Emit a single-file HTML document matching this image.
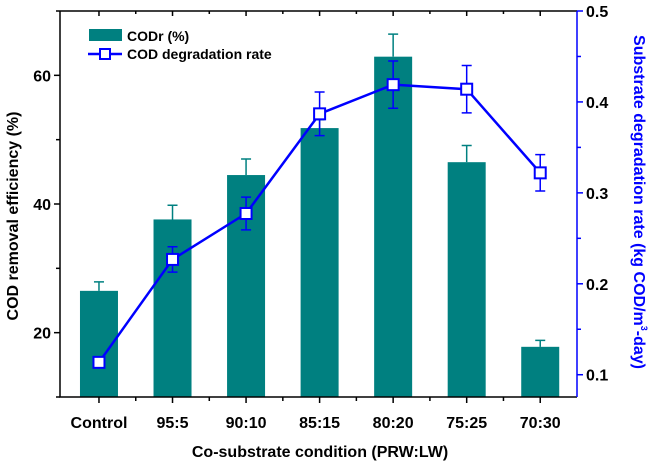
<!DOCTYPE html>
<html><head><meta charset="utf-8"><style>
body{margin:0;background:#fff}
svg text{font-family:"Liberation Sans",Arial,sans-serif;font-weight:bold}
</style></head><body>
<svg id="chart" width="651" height="463" xmlns="http://www.w3.org/2000/svg"></svg>
<script>
const categories=["Control","95:5","90:10","85:15","80:20","75:25","70:30"];
const codr=[26.5,37.6,44.5,51.8,62.9,46.5,17.8];
const codrErr=[1.4,2.2,2.5,1.3,3.5,2.6,1.0];
const rate=[0.1136,0.2268,0.2773,0.3869,0.419,0.414,0.322];
const rateErr=[0.004,0.014,0.018,0.024,0.026,0.026,0.020];
const leftTicks=[20,40,60];
const rightTicks=[0.1,0.2,0.3,0.4,0.5];
const NS="http://www.w3.org/2000/svg";
const svg=document.getElementById('chart');
const L=60,R=577,T=11,B=397;
const x=i=>L+(i+0.53)*(R-L)/7.03;
const yl=v=>B-(v-10)*(B-T)/60;
const yr=v=>B-(v-0.0755)*(B-T)/(0.5-0.0755);
function el(tag,attrs,parent){const e=document.createElementNS(NS,tag);for(const k in attrs)e.setAttribute(k,attrs[k]);(parent||svg).appendChild(e);return e;}
const TEAL="#008080",BLUE="#0000ff";
categories.forEach((c,i)=>{
  const b=el('rect',{x:x(i)-19,y:yl(codr[i]),width:38,height:B-yl(codr[i]),fill:TEAL});
  
  
  const yt=yl(codr[i]+codrErr[i]);
  const e=el('path',{d:`M${x(i)} ${yl(codr[i])}V${yt}M${x(i)-5} ${yt}H${x(i)+5}`,stroke:TEAL,'stroke-width':1.5,fill:'none'});
  
  
});
el('path',{d:`M${L} ${T}H${R}M${L} ${T}V${B}H${R}`,stroke:'#000','stroke-width':1.5,fill:'none'});
el('line',{x1:R,y1:T,x2:R,y2:B,stroke:BLUE,'stroke-width':1.5});
for(let k=0;k<=13;k++){
  const xx=x(k/2);
  if(xx<L+2||xx>R-2)continue;
  const major=k%2===0;
  el('line',{x1:xx,y1:B,x2:xx,y2:B+(major?6:4),stroke:'#000','stroke-width':1.5});
  el('line',{x1:xx,y1:T,x2:xx,y2:T+(major?5:3),stroke:'#000','stroke-width':1.5});
}
categories.forEach((c,i)=>{
  const t=el('text',{x:x(i),y:428,'text-anchor':'middle','font-size':16});t.textContent=c;
  
  
});
[10,20,30,40,50,60,70].forEach(v=>{
  const major=leftTicks.includes(v);
  el('line',{x1:L,y1:yl(v),x2:L-(major?6:4),y2:yl(v),stroke:'#000','stroke-width':1.5});
});
leftTicks.forEach(v=>{
  const t=el('text',{x:L-9,y:yl(v)+6,'text-anchor':'end','font-size':16});t.textContent=v;
  
  
});
[0.1,0.15,0.2,0.25,0.3,0.35,0.4,0.45,0.5].forEach(v=>{
  const major=rightTicks.some(m=>Math.abs(m-v)<1e-6);
  el('line',{x1:R,y1:yr(v),x2:R+(major?6:4),y2:yr(v),stroke:BLUE,'stroke-width':1.5});
});
rightTicks.forEach(v=>{
  const t=el('text',{x:R+9,y:yr(v)+6,'font-size':16});t.textContent=v.toFixed(1);
  
  
});
const ln=el('polyline',{points:rate.map((v,i)=>x(i)+','+yr(v)).join(' '),fill:'none',stroke:BLUE,'stroke-width':2.5});


rate.forEach((v,i)=>{
  const a=yr(v+rateErr[i]),b=yr(v-rateErr[i]);
  const e=el('path',{d:`M${x(i)} ${a}V${b}M${x(i)-5} ${a}H${x(i)+5}M${x(i)-5} ${b}H${x(i)+5}`,stroke:BLUE,'stroke-width':1.5,fill:'none'});
  
  
  const m=el('rect',{x:x(i)-5.5,y:yr(v)-5.5,width:11,height:11,fill:'#fff',stroke:BLUE,'stroke-width':2});
  
  
});
const lg=el('g',{});


el('rect',{x:89,y:29,width:33,height:12,fill:TEAL},lg);
let t=el('text',{x:127,y:41,'font-size':14},lg);t.textContent='CODr (%)';
el('line',{x1:88,y1:54,x2:122,y2:54,stroke:BLUE,'stroke-width':2.5},lg);
el('rect',{x:100,y:49,width:10,height:10,fill:'#fff',stroke:BLUE,'stroke-width':2},lg);
t=el('text',{x:127,y:59,'font-size':14},lg);t.textContent='COD degradation rate';
t=el('text',{x:0,y:0,'font-size':16,'text-anchor':'middle',transform:'translate(18,216) rotate(-90)'});t.textContent='COD removal efficiency (%)';

t=el('text',{x:320,y:457,'font-size':16,'text-anchor':'middle'});t.textContent='Co-substrate condition (PRW:LW)';

t=el('text',{x:0,y:0,'font-size':16,'text-anchor':'middle',fill:BLUE,transform:'translate(634,202) rotate(90)'});
t.innerHTML='Substrate degradation rate (kg COD/m<tspan font-size="9" dy="-7">3</tspan><tspan dy="7">-day)</tspan>';

</script>
</body></html>
